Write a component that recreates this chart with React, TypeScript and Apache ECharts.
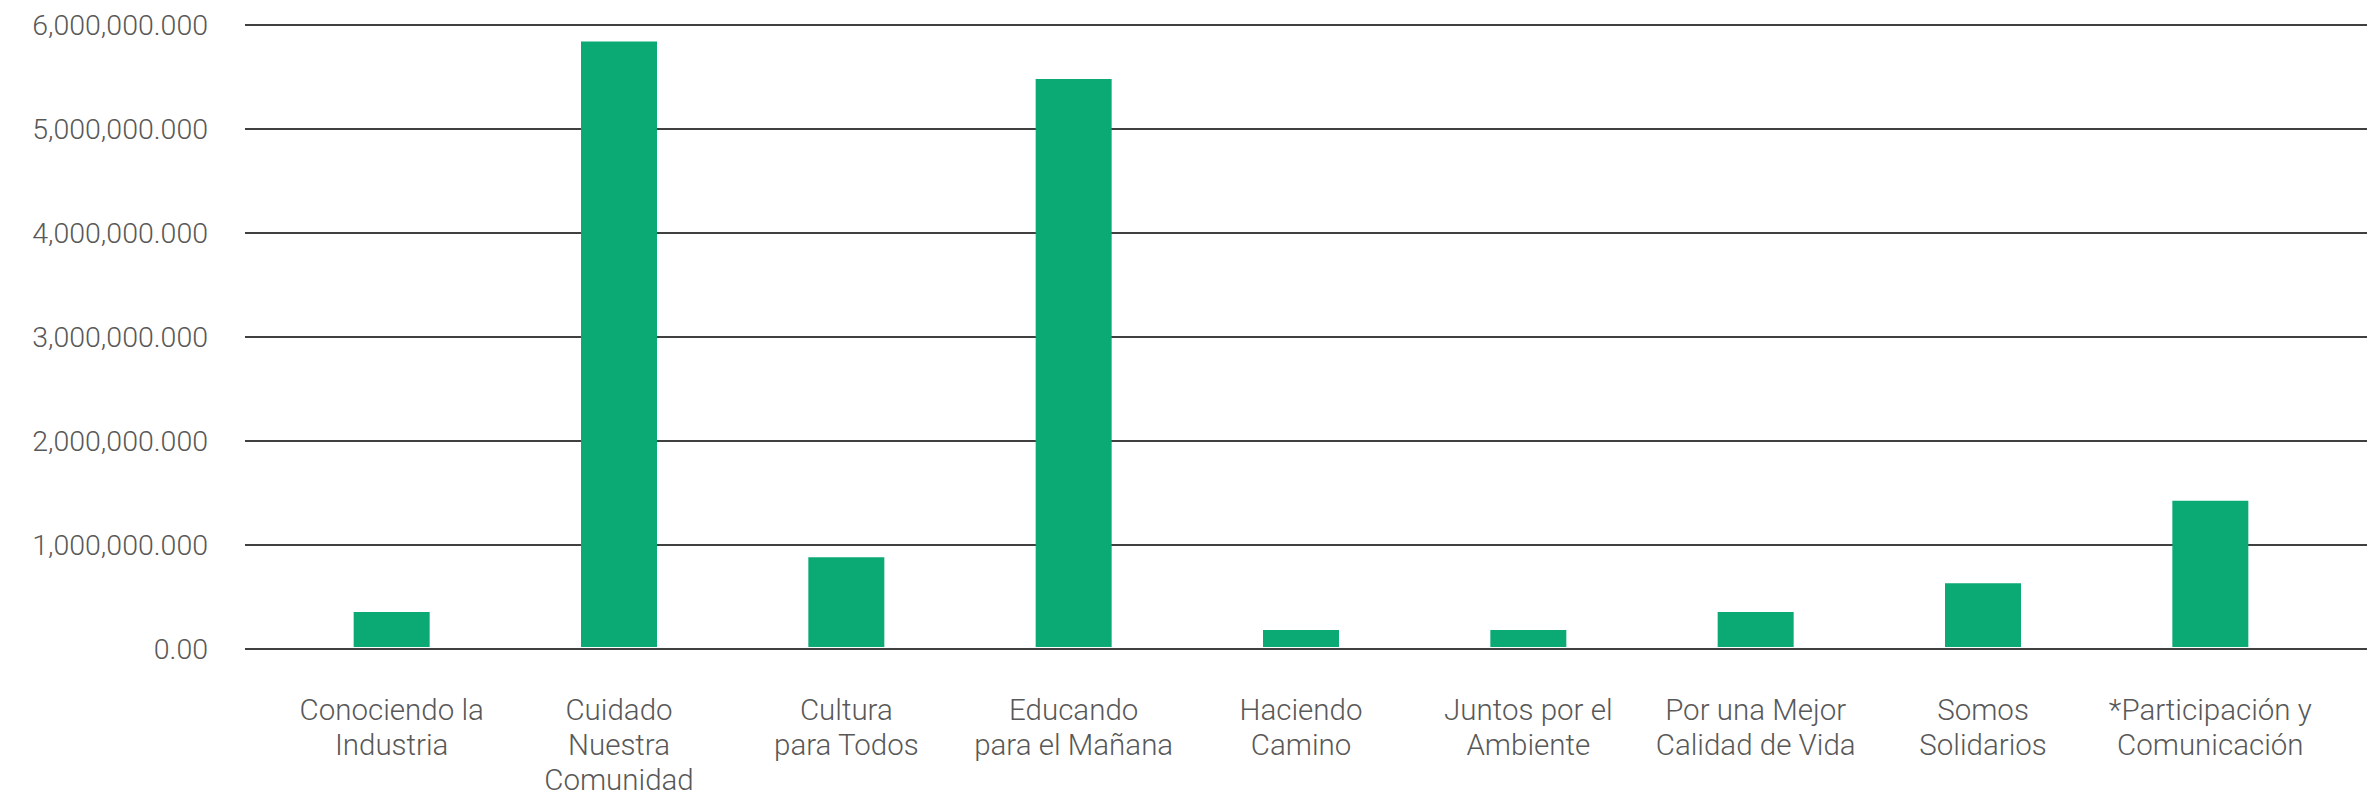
import React, { useEffect, useRef } from "react";
import * as echarts from "echarts";

const categories = [
  "Conociendo la\nIndustria",
  "Cuidado\nNuestra\nComunidad",
  "Cultura\npara Todos",
  "Educando\npara el Mañana",
  "Haciendo\nCamino",
  "Juntos por el\nAmbiente",
  "Por una Mejor\nCalidad de Vida",
  "Somos\nSolidarios",
  "*Participación y\nComunicación",
];

const values = [
  337000000, 5840000000, 865000000, 5480000000, 165000000, 165000000, 337000000,
  615000000, 1410000000,
];

const yTickLabels = [
  "0.00",
  "1,000,000.000",
  "2,000,000.000",
  "3,000,000.000",
  "4,000,000.000",
  "5,000,000.000",
  "6,000,000.000",
];

const Y_INTERVAL = 1000000000;
const Y_MAX = 6000000000;

export default function App() {
  const ref = useRef<HTMLDivElement>(null);
  useEffect(() => {
    document.body.style.margin = "0";
    if (!ref.current) return;
    const chart = echarts.init(ref.current, null, { renderer: "svg" });
    const font = "Roboto, 'Liberation Sans', Arial, sans-serif";
    chart.setOption({
      animation: false,
      backgroundColor: "#ffffff",
      grid: [
        { left: 245, right: 9, top: 25, bottom: 148 },
        { left: 278, right: 52, top: 25, bottom: 148 },
      ],
      xAxis: [
        {
          type: "category",
          gridIndex: 0,
          data: categories,
          show: false,
        },
        {
          type: "category",
          gridIndex: 1,
          data: categories,
          axisLine: { show: false },
          axisTick: { show: false },
          axisLabel: {
            interval: 0,
            margin: 45,
            color: "#585858",
            fontSize: 29.5,
            lineHeight: 35,
            fontFamily: font,
            fontWeight: 300,
            align: "center",
          },
        },
      ],
      yAxis: [
        {
          type: "value",
          gridIndex: 0,
          min: 0,
          max: Y_MAX,
          interval: Y_INTERVAL,
          axisLine: { show: false },
          axisTick: { show: false },
          splitLine: { show: true, lineStyle: { color: "#000000", width: 1.6 } },
          axisLabel: {
            margin: 37,
            color: "#585858",
            fontSize: 28.5,
            fontFamily: font,
            fontWeight: 300,
            formatter: (v: number) => yTickLabels[Math.round(v / Y_INTERVAL)],
          },
        },
        {
          type: "value",
          gridIndex: 1,
          min: 0,
          max: Y_MAX,
          interval: Y_INTERVAL,
          show: false,
          splitLine: { show: false },
        },
      ],
      series: [
        {
          type: "bar",
          xAxisIndex: 1,
          yAxisIndex: 1,
          data: values,
          barWidth: 76,
          itemStyle: { color: "#0baa74" },
        },
      ],
    });
    return () => chart.dispose();
  }, []);
  return <div ref={ref} style={{ width: 2376, height: 797 }} />;
}
